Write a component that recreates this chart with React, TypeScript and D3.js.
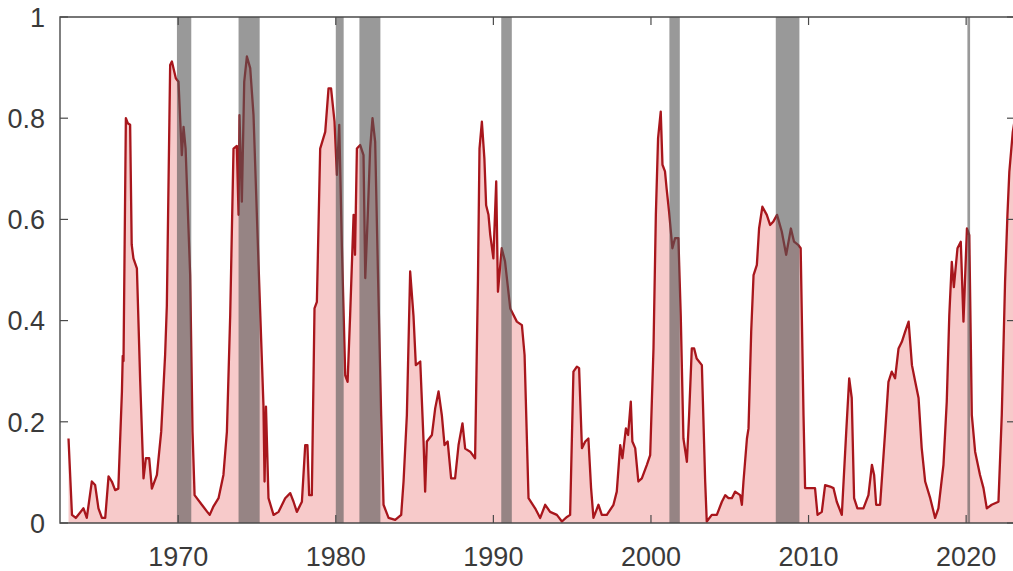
import * as d3 from 'd3';

// monthly-ish readings of the probability series
const dates = [
  1963.04, 1963.26, 1963.5, 1963.99, 1964.2, 1964.52, 1964.73, 1964.94, 1965.16, 1965.37,
  1965.58, 1965.79, 1966.0, 1966.2, 1966.43, 1966.48, 1966.53, 1966.68, 1966.8, 1966.95,
  1967.05, 1967.16, 1967.38, 1967.59, 1967.8, 1967.95, 1968.16, 1968.33, 1968.65, 1968.92,
  1969.17, 1969.28, 1969.49, 1969.6, 1969.85, 1970.02, 1970.23, 1970.34, 1970.47, 1970.76,
  1970.91, 1971.04, 1971.5, 1971.82, 1972.0, 1972.24, 1972.56, 1972.87, 1973.09, 1973.3,
  1973.51, 1973.72, 1973.83, 1973.89, 1974.04, 1974.19, 1974.36, 1974.57, 1974.78, 1975.1,
  1975.41, 1975.48, 1975.57, 1975.73, 1976.05, 1976.37, 1976.79, 1977.11, 1977.32, 1977.53,
  1977.85, 1978.06, 1978.2, 1978.31, 1978.48, 1978.65, 1978.8, 1979.01, 1979.33, 1979.54,
  1979.7, 1979.92, 1980.07, 1980.22, 1980.39, 1980.6, 1980.75, 1980.91, 1981.13, 1981.22,
  1981.34, 1981.55, 1981.76, 1981.87, 1982.03, 1982.18, 1982.33, 1982.5, 1982.67, 1982.88,
  1983.03, 1983.35, 1983.77, 1984.15, 1984.3, 1984.51, 1984.72, 1984.93, 1985.08, 1985.36,
  1985.57, 1985.67, 1985.78, 1986.1, 1986.31, 1986.52, 1986.73, 1986.9, 1987.1, 1987.32,
  1987.57, 1987.79, 1988.04, 1988.21, 1988.53, 1988.84, 1989.02, 1989.12, 1989.27, 1989.43,
  1989.54, 1989.69, 1989.8, 1990.0, 1990.18, 1990.29, 1990.53, 1990.74, 1991.07, 1991.49,
  1991.81, 1991.98, 1992.23, 1992.65, 1992.97, 1993.29, 1993.6, 1994.03, 1994.35, 1994.67,
  1994.87, 1995.08, 1995.3, 1995.44, 1995.62, 1995.83, 1996.03, 1996.2, 1996.35, 1996.67,
  1996.88, 1997.2, 1997.62, 1997.83, 1998.05, 1998.19, 1998.41, 1998.55, 1998.72, 1998.82,
  1999.0, 1999.2, 1999.42, 1999.74, 1999.95, 2000.16, 2000.31, 2000.45, 2000.62, 2000.73,
  2000.89, 2000.99, 2001.15, 2001.36, 2001.53, 2001.74, 2001.89, 2002.06, 2002.28, 2002.42,
  2002.59, 2002.74, 2002.9, 2003.23, 2003.44, 2003.54, 2003.86, 2004.18, 2004.5, 2004.71,
  2004.92, 2005.13, 2005.34, 2005.66, 2005.77, 2005.87, 2006.09, 2006.19, 2006.36, 2006.51,
  2006.72, 2006.86, 2007.07, 2007.35, 2007.56, 2007.77, 2008.0, 2008.3, 2008.58, 2008.88,
  2009.08, 2009.36, 2009.5, 2009.68, 2009.78, 2010.1, 2010.41, 2010.57, 2010.84, 2011.05,
  2011.37, 2011.58, 2011.79, 2012.11, 2012.39, 2012.58, 2012.74, 2012.89, 2013.1, 2013.48,
  2013.8, 2014.02, 2014.16, 2014.29, 2014.54, 2014.86, 2015.07, 2015.28, 2015.49, 2015.71,
  2015.92, 2016.13, 2016.35, 2016.56, 2016.77, 2016.98, 2017.18, 2017.4, 2017.72, 2018.03,
  2018.24, 2018.56, 2018.77, 2018.93, 2019.09, 2019.22, 2019.45, 2019.66, 2019.83, 2020.05,
  2020.2, 2020.36, 2020.57, 2020.88, 2021.1, 2021.31, 2021.62, 2022.05, 2022.26, 2022.47,
  2022.62, 2022.74, 2022.96, 2023.2,
];

const prob = [
  0.167, 0.016, 0.01, 0.029, 0.01, 0.082, 0.075, 0.029, 0.01, 0.01,
  0.092, 0.082, 0.065, 0.068, 0.26, 0.33, 0.32, 0.8, 0.79, 0.787,
  0.55, 0.523, 0.503, 0.279, 0.088, 0.128, 0.128, 0.068, 0.095, 0.18,
  0.332, 0.43, 0.905, 0.912, 0.879, 0.872, 0.727, 0.783, 0.74, 0.49,
  0.18, 0.055, 0.036, 0.023, 0.016, 0.033, 0.049, 0.095, 0.18, 0.41,
  0.74, 0.745, 0.609, 0.806, 0.635, 0.872, 0.922, 0.899, 0.806, 0.51,
  0.233, 0.082, 0.23, 0.049, 0.016, 0.022, 0.049, 0.059, 0.042, 0.022,
  0.042, 0.154, 0.154, 0.055, 0.055, 0.424, 0.437, 0.74, 0.773, 0.859,
  0.859, 0.793, 0.688, 0.787, 0.543, 0.292, 0.279, 0.41, 0.609, 0.53,
  0.74, 0.747, 0.727, 0.484, 0.609, 0.74, 0.8, 0.753, 0.503, 0.213,
  0.036, 0.01, 0.006, 0.016, 0.082, 0.213, 0.497, 0.41, 0.312, 0.319,
  0.161, 0.062, 0.161, 0.174, 0.227, 0.26, 0.213, 0.154, 0.161, 0.088,
  0.088, 0.154, 0.197, 0.147, 0.141, 0.128, 0.477, 0.74, 0.793, 0.72,
  0.628, 0.609, 0.57, 0.523, 0.675, 0.457, 0.543, 0.517, 0.424, 0.398,
  0.391, 0.332, 0.049, 0.029, 0.01, 0.036, 0.022, 0.016, 0.003, 0.012,
  0.016, 0.299, 0.309, 0.306, 0.148, 0.161, 0.167, 0.069, 0.01, 0.036,
  0.016, 0.016, 0.036, 0.062, 0.154, 0.128, 0.187, 0.174, 0.24, 0.161,
  0.148, 0.082, 0.088, 0.115, 0.134, 0.345, 0.609, 0.76, 0.813, 0.708,
  0.695, 0.662, 0.615, 0.543, 0.563, 0.563, 0.41, 0.167, 0.121, 0.213,
  0.345, 0.345, 0.325, 0.312, 0.082, 0.003, 0.016, 0.016, 0.042, 0.055,
  0.049, 0.049, 0.062, 0.055, 0.036, 0.082, 0.167, 0.187, 0.378, 0.49,
  0.51, 0.582, 0.625, 0.609, 0.589, 0.596, 0.609, 0.576, 0.53, 0.582,
  0.556, 0.549, 0.543, 0.213, 0.069, 0.069, 0.069, 0.016, 0.022, 0.075,
  0.072, 0.069, 0.042, 0.016, 0.18, 0.286, 0.247, 0.049, 0.029, 0.029,
  0.055, 0.115, 0.095, 0.036, 0.036, 0.18, 0.279, 0.299, 0.286, 0.345,
  0.358, 0.378, 0.398, 0.312, 0.279, 0.247, 0.148, 0.082, 0.049, 0.01,
  0.029, 0.115, 0.24, 0.41, 0.516, 0.466, 0.543, 0.556, 0.398, 0.582,
  0.569, 0.213, 0.141, 0.095, 0.069, 0.029, 0.036, 0.042, 0.213, 0.477,
  0.609, 0.694, 0.773, 0.82,
];

// NBER recessions (start, end) in decimal years
const recessionStart = [1969.92, 1973.83, 1980.0, 1981.5, 1990.5, 2001.17, 2007.92, 2020.08];
const recessionEnd = [1970.83, 1975.17, 1980.5, 1982.83, 1991.17, 2001.83, 2009.42, 2020.25];

const xTicks = [1970, 1980, 1990, 2000, 2010, 2020];
const yTicks = [0, 0.2, 0.4, 0.6, 0.8, 1];

const W = 1013;
const H = 571;
const margin = { top: 17, right: -2, bottom: 48, left: 60 };

export default function App() {
  const x = d3.scaleLinear()
    .domain([1962.5, 2023.1])
    .range([margin.left, W - margin.right]);
  const y = d3.scaleLinear()
    .domain([0, 1])
    .range([H - margin.bottom, margin.top]);

  const pts = dates.map((d, i) => [d, prob[i]] as [number, number]);

  const area = d3.area<[number, number]>()
    .x(d => x(d[0]))
    .y0(y(0))
    .y1(d => y(d[1]));
  const line = d3.line<[number, number]>()
    .x(d => x(d[0]))
    .y(d => y(d[1]));

  const x0 = x.range()[0];
  const x1 = x.range()[1];
  const y0 = y(0);
  const y1 = y(1);
  const axisColor = '#4a4a4a';
  const font = '"Liberation Sans", Arial, sans-serif';

  return (
    <svg
      width={W}
      height={H}
      style={{ position: 'absolute', left: 0, top: 0, background: '#fff' }}
    >
      <defs>
        <clipPath id="plot">
          <rect x={x0} y={y1} width={x1 - x0} height={y0 - y1} />
        </clipPath>
      </defs>

      <g clipPath="url(#plot)">
        <path d={area(pts) || ''} fill="#f7caca" />
        <path d={line(pts) || ''} fill="none" stroke="#a8161c" strokeWidth={2.3} strokeLinejoin="round" />
        {recessionStart.map((s, i) => (
          <rect
            key={s}
            x={x(s)}
            y={y1}
            width={Math.max(2, x(recessionEnd[i]) - x(s))}
            height={y0 - y1}
            fill="#555"
            fillOpacity={0.6}
          />
        ))}
      </g>

      {/* box */}
      <path
        d={`M${x0},${y0}V${y1}H${x1}V${y0}Z`}
        fill="none"
        stroke={axisColor}
        strokeWidth={1.4}
      />

      {yTicks.map(t => (
        <g key={t}>
          <line x1={x0} x2={x0 + 8} y1={y(t)} y2={y(t)} stroke={axisColor} strokeWidth={1.2} />
          <line x1={x1} x2={x1 - 8} y1={y(t)} y2={y(t)} stroke={axisColor} strokeWidth={1.2} />
          <text
            x={x0 - 15}
            y={y(t)}
            dy="0.36em"
            textAnchor="end"
            fontFamily={font}
            fontSize={27}
            fill="#3a3a3a"
          >
            {d3.format('~g')(t)}
          </text>
        </g>
      ))}

      {xTicks.map(t => (
        <g key={t}>
          <line x1={x(t)} x2={x(t)} y1={y0} y2={y0 - 8} stroke={axisColor} strokeWidth={1.2} />
          <line x1={x(t)} x2={x(t)} y1={y1} y2={y1 + 8} stroke={axisColor} strokeWidth={1.2} />
          <text
            x={x(t)}
            y={566}
            textAnchor="middle"
            fontFamily={font}
            fontSize={27}
            fill="#3a3a3a"
          >
            {t}
          </text>
        </g>
      ))}
    </svg>
  );
}
